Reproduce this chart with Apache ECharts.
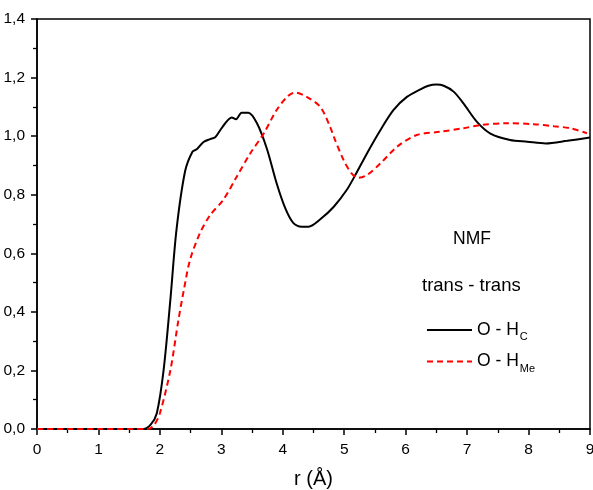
<!DOCTYPE html>
<html>
<head>
<meta charset="utf-8">
<script src="https://cdn.jsdelivr.net/npm/echarts@6/dist/echarts.min.js"></script>
<style>html,body{margin:0;padding:0;background:#fff}#c{width:593px;height:490px}</style>
</head>
<body>
<div id="c"></div>
<script>
// O - H_C (black, solid)
var rBlack = [0, 0.5, 1.0, 1.5, 1.73, 1.85, 1.95, 2.06, 2.17, 2.27, 2.41, 2.53, 2.60, 2.71, 2.82, 2.90, 3.02, 3.17, 3.24, 3.33, 3.44, 3.58, 3.74, 3.90, 4.04, 4.17, 4.31, 4.42, 4.61, 4.83, 5.04, 5.18, 5.37, 5.59, 5.80, 6.02, 6.24, 6.37, 6.50, 6.62, 6.78, 6.94, 7.16, 7.38, 7.70, 7.98, 8.28, 8.63, 9.0];
var gBlack = [0, 0, 0, 0, 0, 0.015, 0.054, 0.20, 0.44, 0.68, 0.88, 0.947, 0.955, 0.98, 0.99, 0.996, 1.032, 1.064, 1.058, 1.08, 1.08, 1.044, 0.958, 0.839, 0.754, 0.704, 0.691, 0.691, 0.716, 0.759, 0.816, 0.867, 0.941, 1.021, 1.089, 1.134, 1.16, 1.172, 1.176, 1.172, 1.152, 1.112, 1.049, 1.009, 0.987, 0.981, 0.975, 0.984, 0.995];
// O - H_Me (red, dashed)
var rRed = [0, 0.5, 1.0, 1.5, 1.80, 1.90, 2.00, 2.17, 2.30, 2.39, 2.49, 2.65, 2.82, 3.03, 3.25, 3.47, 3.69, 3.90, 4.07, 4.20, 4.39, 4.61, 4.77, 4.83, 4.99, 5.12, 5.23, 5.37, 5.59, 5.86, 6.18, 6.56, 6.94, 7.22, 7.65, 8.08, 8.41, 8.68, 8.95];
var gRed = [0, 0, 0, 0, 0, 0.012, 0.054, 0.20, 0.37, 0.475, 0.577, 0.668, 0.731, 0.782, 0.861, 0.941, 1.009, 1.089, 1.134, 1.149, 1.134, 1.10, 1.032, 0.998, 0.918, 0.873, 0.858, 0.867, 0.907, 0.964, 1.004, 1.015, 1.027, 1.038, 1.044, 1.041, 1.034, 1.027, 1.01];
var xTicks = [0, 1, 2, 3, 4, 5, 6, 7, 8, 9];
var yTicks = [0, 0.2, 0.4, 0.6, 0.8, 1.0, 1.2, 1.4];
var seriesNames = ['O - H_C', 'O - H_Me'];

function pairs(xs, ys) { return xs.map(function (x, i) { return [x, ys[i]]; }); }

var chart = echarts.init(document.getElementById('c'), null, { renderer: 'canvas' });
var font = 'Liberation Sans, Arial, sans-serif';
chart.setOption({
  animation: false,
  backgroundColor: '#fff',
  grid: { left: 37, right: 3, top: 19, bottom: 61, show: true, borderColor: '#000', borderWidth: 1.5,
    backgroundColor: 'transparent', containLabel: false, outerBoundsMode: 'none' },
  xAxis: {
    type: 'value', min: xTicks[0], max: xTicks[xTicks.length - 1], interval: 1,
    name: 'r (Å)', nameLocation: 'middle', nameGap: 40,
    nameTextStyle: { fontFamily: font, fontSize: 20, color: '#000' },
    axisLine: { lineStyle: { color: '#000', width: 1.5 } },
    axisTick: { inside: false, length: 6, lineStyle: { color: '#000', width: 1.5 } },
    minorTick: { show: true, splitNumber: 2, length: 4, lineStyle: { color: '#000', width: 1.3 } },
    axisLabel: { fontFamily: font, fontSize: 15.5, color: '#000', margin: 13 },
    splitLine: { show: false }
  },
  yAxis: {
    type: 'value', min: yTicks[0], max: yTicks[yTicks.length - 1], interval: 0.2,
    axisLine: { show: true, lineStyle: { color: '#000', width: 1.5 } },
    axisTick: { show: true, inside: false, length: 6, lineStyle: { color: '#000', width: 1.5 } },
    minorTick: { show: true, splitNumber: 2, length: 4, lineStyle: { color: '#000', width: 1.3 } },
    axisLabel: { fontFamily: font, fontSize: 15.5, color: '#000', margin: 12,
      formatter: function (v) { return v.toFixed(1).replace('.', ','); } },
    splitLine: { show: false }
  },
  legend: {
    orient: 'vertical', left: 426, top: 321, padding: 0, itemWidth: 45, itemHeight: 14, itemGap: 10,
    data: seriesNames,
    itemStyle: { opacity: 0 },
    formatter: function (n) {
      var p = n.split('_');
      return '{a|' + p[0] + '}{s|' + p[1] + '}';
    },
    textStyle: {
      color: '#000',
      rich: {
        a: { fontFamily: font, fontSize: 17.5, color: '#000' },
        s: { fontFamily: font, fontSize: 11, color: '#000', padding: [14, 0, 0, 1] }
      }
    }
  },
  graphic: [
    { type: 'text', left: 453, top: 230, style: { text: 'NMF', font: '17.5px ' + font, fill: '#000' } },
    { type: 'text', left: 422, top: 276, style: { text: 'trans - trans', font: '18.5px ' + font, fill: '#000' } }
  ],
  series: [
    { name: seriesNames[0], type: 'line', data: pairs(rBlack, gBlack), smooth: 0.3, showSymbol: false, symbol: 'none',
      lineStyle: { color: '#000', width: 2 }, itemStyle: { color: '#000' } },
    { name: seriesNames[1], type: 'line', data: pairs(rRed, gRed), smooth: 0.3, showSymbol: false, symbol: 'none',
      lineStyle: { color: '#ff0000', width: 2, type: [6, 4] }, itemStyle: { color: '#ff0000' } }
  ]
});
</script>
</body>
</html>
